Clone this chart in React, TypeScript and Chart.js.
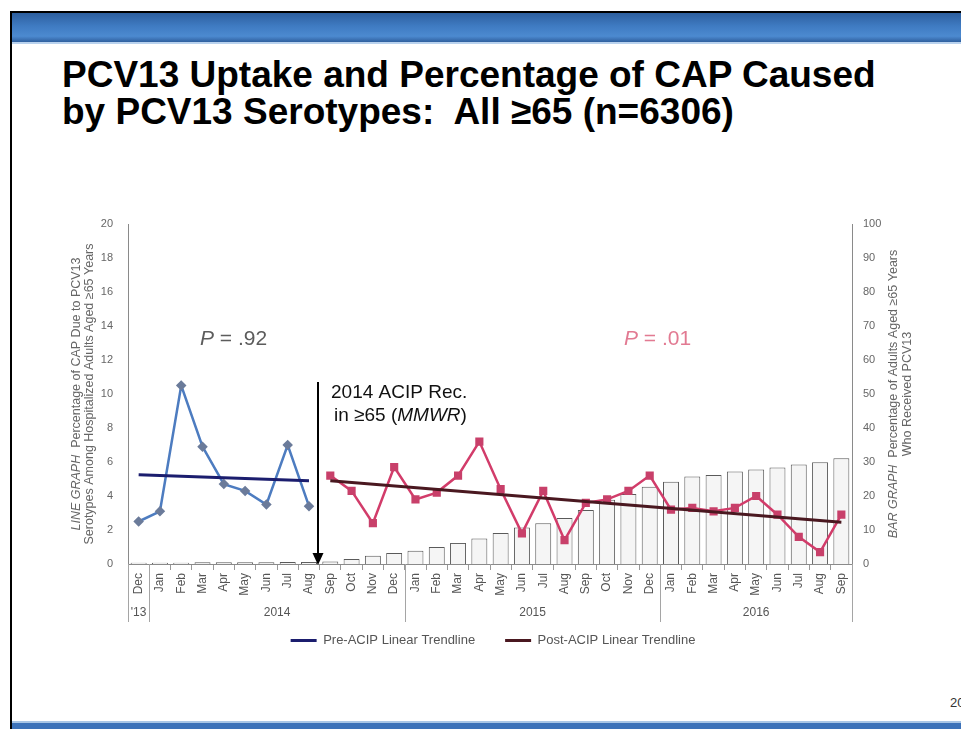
import React, { useEffect, useRef } from "react";
import { Chart, registerables } from "chart.js";

Chart.register(...registerables);

const FONT = "'Liberation Sans', Arial, Helvetica, sans-serif";

// ---- data ----
const months = [
  "Dec",
  "Jan", "Feb", "Mar", "Apr", "May", "Jun", "Jul", "Aug", "Sep", "Oct", "Nov", "Dec",
  "Jan", "Feb", "Mar", "Apr", "May", "Jun", "Jul", "Aug", "Sep", "Oct", "Nov", "Dec",
  "Jan", "Feb", "Mar", "Apr", "May", "Jun", "Jul", "Aug", "Sep",
];
const yearLabels = ["'13", "2014", "2015", "2016"];
const yearSpans = [1, 12, 12, 9];

// % of adults >=65 who received PCV13 (bars, right axis)
const uptakePct = [
  0.4, 0.4, 0.4, 0.5, 0.5, 0.5, 0.5, 0.6, 0.6,
  0.7, 1.5, 2.4, 3.2, 3.9, 5.0, 6.2, 7.5, 9.1, 10.7, 12.0, 13.5,
  15.9, 18.9, 20.6, 22.7, 24.2, 25.7, 26.2, 27.2, 27.8, 28.4, 29.3, 29.9, 31.1,
];

// % of CAP due to PCV13 serotypes (lines, left axis)
const preAcipValues = [2.5, 3.1, 10.5, 6.9, 4.7, 4.3, 3.5, 7.0, 3.4];
const postAcipValues = [
  5.2, 4.3, 2.4, 5.7, 3.8, 4.2, 5.2, 7.2, 4.4, 1.8, 4.3, 1.4, 3.6,
  3.8, 4.3, 5.2, 3.2, 3.3, 3.1, 3.3, 4.0, 2.9, 1.6, 0.7, 2.9,
];
// linear trendline end points (start, end)
const preTrend = [5.25, 4.9];
const postTrend = [4.9, 2.45];

const preLabel = "Pre-ACIP Linear Trendline";
const postLabel = "Post-ACIP Linear Trendline";

// ---- derived series ----
const nPre = preAcipValues.length;
const nAll = months.length;
const preLine = months.map((_, i) => (i < nPre ? preAcipValues[i] : null));
const postLine = months.map((_, i) => (i >= nPre ? postAcipValues[i - nPre] : null));
const preTrendLine = months.map((_, i) => (i === 0 ? preTrend[0] : i === nPre - 1 ? preTrend[1] : null));
const postTrendLine = months.map((_, i) => (i === nPre ? postTrend[0] : i === nAll - 1 ? postTrend[1] : null));

type Run = { text: string; italic?: boolean };

function drawRuns(ctx: CanvasRenderingContext2D, runs: Run[], x: number, y: number, size: number, align: "left" | "center") {
  const widths = runs.map((r) => {
    ctx.font = `${r.italic ? "italic " : ""}${size}px ${FONT}`;
    return ctx.measureText(r.text).width;
  });
  const total = widths.reduce((a, b) => a + b, 0);
  let cx = align === "center" ? x - total / 2 : x;
  ctx.textAlign = "left";
  runs.forEach((r, i) => {
    ctx.font = `${r.italic ? "italic " : ""}${size}px ${FONT}`;
    ctx.fillText(r.text, cx, y);
    cx += widths[i];
  });
}

const annotationPlugin = {
  id: "annotations",
  afterDraw(chart: any) {
    const ctx: CanvasRenderingContext2D = chart.ctx;
    const xs = chart.scales.x;
    const ys = chart.scales.y;
    const area = chart.chartArea;
    const catW = xs.getPixelForValue(1) - xs.getPixelForValue(0);
    ctx.save();

    // year separators and labels
    const bounds = [0];
    let acc = 0;
    yearSpans.forEach((s) => {
      acc += s;
      bounds.push(acc);
    });
    ctx.strokeStyle = "#a5a5a5";
    ctx.lineWidth = 1;
    bounds.forEach((b) => {
      const x = Math.round(xs.getPixelForValue(b) - catW / 2) + 0.5;
      ctx.beginPath();
      ctx.moveTo(x, area.bottom);
      ctx.lineTo(x, area.bottom + 58);
      ctx.stroke();
    });
    ctx.fillStyle = "#555";
    ctx.font = `12px ${FONT}`;
    ctx.textAlign = "center";
    ctx.textBaseline = "alphabetic";
    yearLabels.forEach((lab, i) => {
      const x0 = xs.getPixelForValue(bounds[i]) - catW / 2;
      const x1 = xs.getPixelForValue(bounds[i + 1]) - catW / 2;
      ctx.fillText(lab, (x0 + x1) / 2, area.bottom + 52);
    });

    // ACIP arrow
    const ax = Math.round(xs.getPixelForValue(nPre - 1) + catW / 2) - 2;
    const aTop = ys.getPixelForValue(10.7);
    const aBot = area.bottom + 1;
    ctx.strokeStyle = "#000";
    ctx.fillStyle = "#000";
    ctx.lineWidth = 2;
    ctx.beginPath();
    ctx.moveTo(ax, aTop);
    ctx.lineTo(ax, aBot - 9);
    ctx.stroke();
    ctx.beginPath();
    ctx.moveTo(ax - 5.5, aBot - 12);
    ctx.lineTo(ax + 5.5, aBot - 12);
    ctx.lineTo(ax, aBot);
    ctx.closePath();
    ctx.fill();

    ctx.textBaseline = "alphabetic";
    ctx.fillStyle = "#111";
    drawRuns(ctx, [{ text: "2014 ACIP Rec." }], ax + 13, aTop + 16, 19, "left");
    drawRuns(ctx, [{ text: "in \u226565 (" }, { text: "MMWR", italic: true }, { text: ")" }], ax + 16, aTop + 39, 19, "left");

    // P values
    ctx.fillStyle = "#5c5c5c";
    drawRuns(ctx, [{ text: "P", italic: true }, { text: " = .92" }], 200, 345, 21, "left");
    ctx.fillStyle = "#e27a92";
    drawRuns(ctx, [{ text: "P", italic: true }, { text: " = .01" }], 624, 345, 21, "left");

    // axis titles
    const cy = (area.top + area.bottom) / 2;
    ctx.fillStyle = "#666";
    ctx.textBaseline = "middle";
    const rotText = (x: number, runs: Run[]) => {
      ctx.save();
      ctx.translate(x, cy);
      ctx.rotate(-Math.PI / 2);
      drawRuns(ctx, runs, 0, 0, 12.5, "center");
      ctx.restore();
    };
    rotText(77, [{ text: "LINE GRAPH", italic: true }, { text: "  Percentage of CAP Due to PCV13" }]);
    rotText(90, [{ text: "Serotypes Among Hospitalized Adults Aged \u226565 Years" }]);
    rotText(894, [{ text: "BAR GRAPH", italic: true }, { text: "  Percentage of Adults Aged \u226565 Years" }]);
    rotText(908, [{ text: "Who Received PCV13" }]);

    ctx.restore();
  },
};

export default function App() {
  const canvasRef = useRef<HTMLCanvasElement | null>(null);

  useEffect(() => {
    const canvas = canvasRef.current;
    if (!canvas) return;
    Chart.defaults.font.family = FONT;
    const chart = new Chart(canvas, {
      type: "bar",
      data: {
        labels: months,
        datasets: [
          {
            type: "line",
            label: preLabel,
            data: preTrendLine,
            borderColor: "#1b1d6e",
            backgroundColor: "#1b1d6e",
            borderWidth: 3,
            pointRadius: 0,
            spanGaps: true,
            yAxisID: "y",
            order: 0,
          },
          {
            type: "line",
            label: postLabel,
            data: postTrendLine,
            borderColor: "#4a1820",
            backgroundColor: "#4a1820",
            borderWidth: 3,
            pointRadius: 0,
            spanGaps: true,
            yAxisID: "y",
            order: 0,
          },
          {
            type: "line",
            label: "Pre-ACIP",
            data: preLine,
            borderColor: "#4d7cc0",
            backgroundColor: "#6b7b9a",
            borderWidth: 2.5,
            pointStyle: "rectRot",
            pointRadius: 3.5,
            pointBackgroundColor: "#6b7b9a",
            pointBorderColor: "#6b7b9a",
            tension: 0,
            yAxisID: "y",
            order: 1,
          },
          {
            type: "line",
            label: "Post-ACIP",
            data: postLine,
            borderColor: "#d23c6a",
            backgroundColor: "#c8406a",
            borderWidth: 2.5,
            pointStyle: "rect",
            pointRadius: 4,
            pointBackgroundColor: "#c8406a",
            pointBorderColor: "#c8406a",
            tension: 0,
            yAxisID: "y",
            order: 1,
          },
          {
            type: "bar",
            label: "PCV13 uptake",
            data: uptakePct,
            backgroundColor: "#f5f5f5",
            borderColor: "#5a5a5a",
            borderWidth: 1,
            barPercentage: 0.75,
            categoryPercentage: 1,
            yAxisID: "y1",
            order: 2,
          },
        ],
      },
      options: {
        responsive: false,
        animation: false,
        devicePixelRatio: 1,
        layout: { padding: { top: 224, left: 25, right: 0, bottom: 72 } },
        plugins: {
          tooltip: { enabled: false },
          title: { display: false },
          legend: {
            display: true,
            position: "bottom",
            labels: {
              boxWidth: 26,
              boxHeight: 3,
              padding: 30,
              color: "#555",
              font: { size: 13, family: FONT },
              generateLabels: (c: any) =>
                (Chart.defaults.plugins.legend.labels as any)
                  .generateLabels(c)
                  .filter((it: any) => it.datasetIndex < 2)
                  .map((it: any) => ({ ...it, lineWidth: 0 })),
            },
          },
        },
        scales: {
          x: {
            offset: true,
            grid: { display: true, drawOnChartArea: false, offset: true, tickLength: 6, color: "#999" },
            border: { display: true, color: "#8a8a8a", width: 1 },
            ticks: {
              autoSkip: false,
              maxRotation: 90,
              minRotation: 90,
              padding: 3,
              color: "#555",
              font: { size: 12, family: FONT },
            },
            afterFit: (s: any) => {
              s.height = 40;
            },
          },
          y: {
            position: "left",
            min: 0,
            max: 20,
            grid: { display: false, drawTicks: false },
            border: { display: true, color: "#8a8a8a", width: 1 },
            ticks: { stepSize: 2, padding: 15, color: "#666", font: { size: 11, family: FONT } },
            afterFit: (s: any) => {
              s.width = 103;
            },
          },
          y1: {
            position: "right",
            min: 0,
            max: 100,
            grid: { display: false, drawTicks: false },
            border: { display: true, color: "#8a8a8a", width: 1 },
            ticks: { stepSize: 10, padding: 11, color: "#666", font: { size: 11, family: FONT } },
            afterFit: (s: any) => {
              s.width = 109;
            },
          },
        },
      },
      plugins: [annotationPlugin],
    } as any);
    return () => chart.destroy();
  }, []);

  return (
    <div
      style={{
        position: "fixed",
        left: 0,
        top: 0,
        width: 961,
        height: 729,
        overflow: "hidden",
        background: "#fff",
        fontFamily: FONT,
      }}
    >
      {/* slide frame */}
      <div style={{ position: "absolute", left: 10, top: 11, width: 951, height: 2, background: "#000" }} />
      <div style={{ position: "absolute", left: 10, top: 11, width: 2, height: 718, background: "#000" }} />
      <div
        style={{
          position: "absolute",
          left: 12,
          top: 13,
          width: 949,
          height: 29,
          background: "linear-gradient(to bottom, #2d5f9f 0%, #3f7bc2 45%, #4c8ad0 80%, #2f5f9e 100%)",
        }}
      />
      <div style={{ position: "absolute", left: 12, top: 42, width: 949, height: 2, background: "#b9d2ee" }} />
      <div style={{ position: "absolute", left: 12, top: 721, width: 949, height: 2, background: "#a9c6e6" }} />
      <div style={{ position: "absolute", left: 12, top: 723, width: 949, height: 6, background: "#3c72b9" }} />
      <div style={{ position: "absolute", left: 950, top: 695, fontSize: 13, color: "#333", whiteSpace: "nowrap" }}>20</div>

      {/* slide title */}
      <div
        style={{
          position: "absolute",
          left: 62,
          top: 56,
          fontSize: 37,
          lineHeight: "37px",
          fontWeight: "bold",
          color: "#000",
          whiteSpace: "pre",
        }}
      >
        {"PCV13 Uptake and Percentage of CAP Caused\nby PCV13 Serotypes:  All \u226565 (n=6306)"}
      </div>

      <canvas
        ref={canvasRef}
        width={961}
        height={729}
        style={{ position: "absolute", left: 0, top: 0, width: 961, height: 729 }}
      />
    </div>
  );
}
